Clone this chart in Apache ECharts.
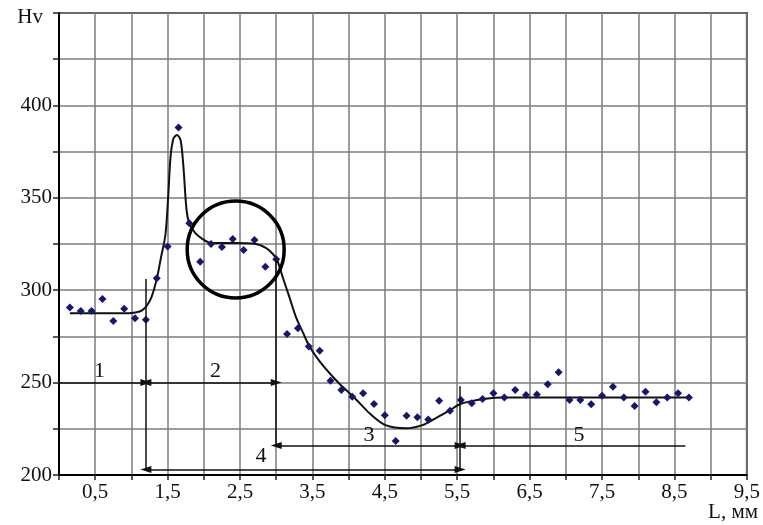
<!DOCTYPE html>
<html><head><meta charset="utf-8">
<script src="https://cdn.jsdelivr.net/npm/echarts@6/dist/echarts.min.js"></script>
<style>html,body{margin:0;padding:0;background:#fff}#c{width:763px;height:525px}</style>
</head><body><div id="c"></div>
<script>
// measured points: L (mm) and Hv
const pointX = [0.15,0.30,0.45,0.60,0.75,0.90,1.05,1.20,1.35,1.50,1.65,1.80,1.95,2.10,2.25,2.40,2.55,2.70,2.85,3.00,
  3.15,3.30,3.45,3.60,3.75,3.90,4.05,4.20,4.35,4.50,4.65,4.80,4.95,5.10,5.25,5.40,5.55,5.70,5.85,6.00,
  6.15,6.30,6.45,6.60,6.75,6.90,7.05,7.20,7.35,7.50,7.65,7.80,7.95,8.10,8.25,8.40,8.55,8.70];
const pointHv = [290.7,288.8,288.8,295.2,283.3,290,284.8,284,306.4,323.6,388.1,336.2,315.4,325,323.4,327.7,321.8,327.2,312.7,316.7,
  276.3,279.4,269.5,267.3,251,246,242.4,244.2,238.4,232.3,218.4,232.1,231.2,230.1,240.2,234.8,240.6,238.8,241.1,244.2,
  242,246,243.3,243.6,249.1,255.6,240.6,240.6,238.3,242.9,247.8,242,237.3,245.1,239.3,242,244.2,242];
// fitted curve
const fitX = [0.15,0.5,0.8,1.0,1.1,1.16,1.22,1.28,1.35,1.41,1.47,1.51,1.54,1.58,1.63,1.68,1.72,1.76,1.80,1.88,1.97,2.10,2.40,2.72,2.85,2.93,3.01,3.09,3.18,3.27,3.37,3.46,3.60,3.75,3.87,4.10,4.30,4.51,4.79,5.02,5.20,5.39,5.52,5.66,5.89,6.12,7.0,8.0,8.69];
const fitHv = [287.5,287.5,287.5,287.7,288.3,289.5,292,296.5,306,318,330,352,372,382,384,381,366,344,336,331,328,325.5,325.5,325,323,320.5,316.5,307,296.5,285.7,277,269.5,261.5,254.5,249.5,241,233,227,225.3,227,230.7,234.8,238,239.7,241.3,242,242,242,242];
// axis tick labels
const xTickValues = [0.5,1.5,2.5,3.5,4.5,5.5,6.5,7.5,8.5,9.5];
const xTickLabels = ['0,5','1,5','2,5','3,5','4,5','5,5','6,5','7,5','8,5','9,5'];
const yTickValues = [200,250,300,350,400,450];
const yTickLabels = ['200','250','300','350','400','Hv'];
const xAxisTitle = 'L, мм';
// highlighted zone (circle centre)
const circleCenter = [2.44, 322];
// zone labels
const zoneLabels = ['1','2','3','4','5'];
const zoneLabelX = [0.56, 2.16, 4.28, 2.79, 7.18];
const zoneLabelHv = [256, 256, 221.7, 210, 221.7];
// annotation segments: [x1, hv1, x2, hv2, arrowAtStart, arrowAtEnd]
const segments = [
  [0,250,1.2,250,0,1],
  [1.2,250,3.0,250,1,1],
  [1.2,203,5.54,203,1,1],
  [3.0,216,5.54,216,1,1],
  [5.54,216,8.65,216,1,0],
  [1.2,306,1.2,203,0,0],
  [3.0,317,3.0,216,0,0],
  [5.54,248,5.54,203,0,0]
];

const FONT = "'Liberation Serif', 'DejaVu Serif', serif";
const chart = echarts.init(document.getElementById('c'), null, {renderer:'canvas'});
const near = (a,b)=>Math.abs(a-b)<1e-6;
chart.setOption({
  animation:false,
  backgroundColor:'#fff',
  grid:{left:59,right:15,top:13,bottom:50,show:true,borderColor:'#333',borderWidth:2,backgroundColor:'transparent'},
  xAxis:{type:'value',min:0,max:9.5,interval:0.5,
    axisLine:{show:true,lineStyle:{color:'#000',width:2}},
    axisTick:{show:true,length:5,lineStyle:{color:'#222',width:1.5}},
    splitLine:{show:true,lineStyle:{color:'#7d7d7d',width:1.5}},
    axisLabel:{margin:7,color:'#111',fontFamily:FONT,fontSize:21,
      formatter:v=>{const i=xTickValues.findIndex(t=>near(t,v));return i>=0?xTickLabels[i]:'';}}
  },
  yAxis:{type:'value',min:200,max:450,interval:25,
    axisLine:{show:true,lineStyle:{color:'#000',width:2}},
    axisTick:{show:true,length:6,lineStyle:{color:'#222',width:1.5}},
    splitLine:{show:true,lineStyle:{color:'#7d7d7d',width:1.5}},
    axisLabel:{margin:7,color:'#111',fontFamily:FONT,fontSize:21,
      formatter:v=>{const i=yTickValues.findIndex(t=>near(t,v));
        if(i<0) return ''; return v===450?'{hv|'+yTickLabels[i]+'}':yTickLabels[i];},
      rich:{hv:{fontFamily:FONT,fontSize:21,color:'#111',padding:[8,9,0,0]}}}
  },
  graphic:[{type:'text',right:5,bottom:2,style:{text:xAxisTitle,font:'21px '+FONT,fill:'#111'}}],
  series:[
    {type:'line',name:'fit',data:fitX.map((x,i)=>[x,fitHv[i]]),smooth:0.3,
      symbol:'none',lineStyle:{color:'#111',width:2},z:3},
    {type:'scatter',name:'points',data:pointX.map((x,i)=>[x,pointHv[i]]),symbol:'diamond',symbolSize:8,
      itemStyle:{color:'#16166e',opacity:1},z:4},
    {type:'scatter',name:'zone',data:[circleCenter],symbol:'circle',symbolSize:97,
      itemStyle:{color:'rgba(0,0,0,0)',borderColor:'#000',borderWidth:3.5,opacity:1},z:5,silent:true},
    {type:'line',name:'annotations',data:[],z:6,
      markLine:{silent:true,animation:false,label:{show:false},
        lineStyle:{color:'#111',width:1.5,type:'solid',opacity:1},
        data:segments.map(s=>[
          {coord:[s[0],s[1]],symbol:s[4]?'triangle':'none',symbolSize:[7,11]},
          {coord:[s[2],s[3]],symbol:s[5]?'triangle':'none',symbolSize:[7,11]}
        ])}},
    {type:'scatter',name:'labels',symbolSize:0,z:7,silent:true,itemStyle:{opacity:1},
      data:zoneLabels.map((t,i)=>({value:[zoneLabelX[i],zoneLabelHv[i]],name:t})),
      label:{show:true,position:'inside',formatter:p=>p.name,color:'#111',fontFamily:FONT,fontSize:22}}
  ]
});
</script></body></html>
